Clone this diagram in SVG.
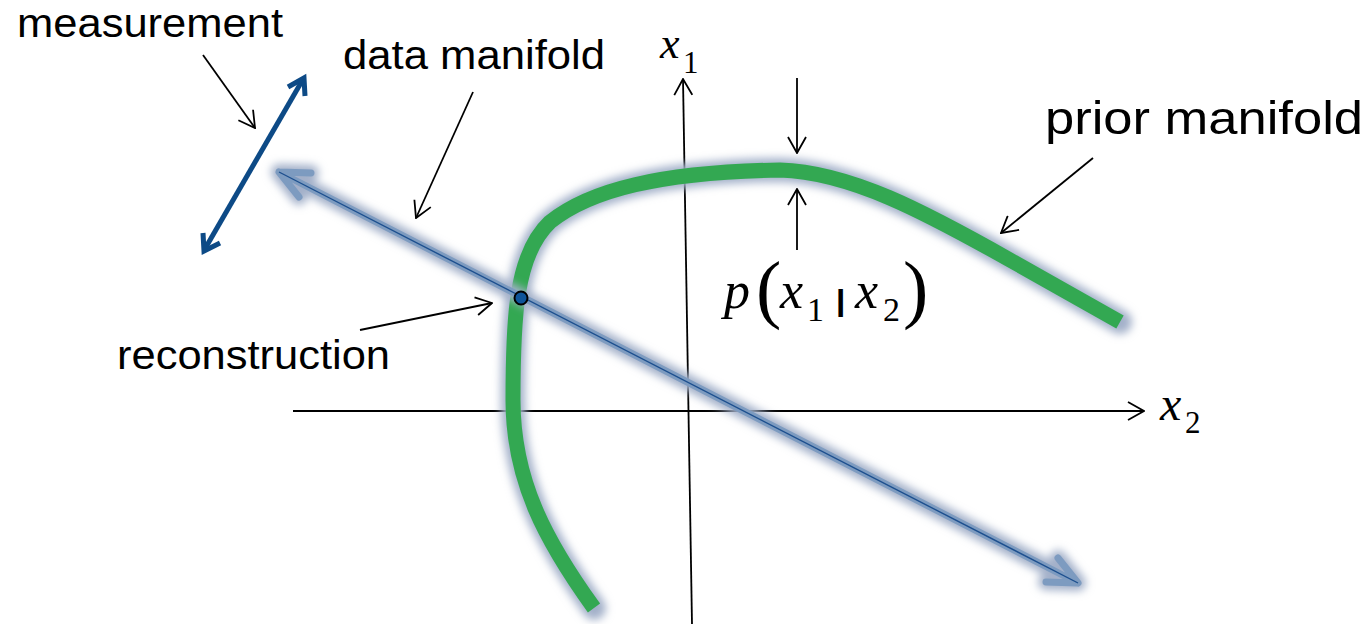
<svg xmlns="http://www.w3.org/2000/svg" width="1370" height="624" viewBox="0 0 1370 624">
<style>
.lbl{font-family:"Liberation Sans",Arial,sans-serif;font-size:41px;fill:#000}
.math{font-family:"Liberation Serif","Times New Roman",serif;fill:#000}
.it{font-style:italic}
.ptr{stroke:#000;stroke-width:1.8;fill:none}
.glow{fill:none;stroke:#a3b0c9;stroke-linecap:round;stroke-linejoin:round}
</style>
<defs>
<filter id="blur" x="-10%" y="-10%" width="120%" height="120%"><feGaussianBlur stdDeviation="4"/></filter>
<marker id="open" viewBox="0 0 18 20" refX="17" refY="10" markerWidth="18" markerHeight="20" markerUnits="userSpaceOnUse" orient="auto">
<path d="M1,1 L17,10 L1,19" fill="none" stroke="#000" stroke-width="1.8"/>
</marker>
</defs>
<rect width="1370" height="624" fill="#fff"/>

<g id="axes">
<line x1="293" y1="411" x2="1144" y2="411" class="ptr" marker-end="url(#open)"/>
<line x1="692" y1="624" x2="683" y2="79" class="ptr" marker-end="url(#open)"/>
</g>

<g id="prior-manifold">
<path d="M594,608 C545,540 513,480 513,400 C513,320 515,255 550,222 C590,190 660,172 780,170 C850,172 925,212 1010,260 L1120,322" class="glow" stroke-width="24" filter="url(#blur)"/>
<path d="M594,608 C545,540 513,480 513,400 C513,320 515,255 550,222 C590,190 660,172 780,170 C850,172 925,212 1010,260 L1120,322" fill="none" stroke="#33a852" stroke-width="15" stroke-linejoin="round"/>
</g>

<g id="data-manifold">
<g filter="url(#blur)">
<path d="M279,172 L1078,583 M311,173 L279,172 L299,197 M1058,558 L1078,583 L1046,582" class="glow" stroke-width="16"/>
</g>
<path d="M279,172 L1078,583 M311,173 L279,172 L299,197 M1058,558 L1078,583 L1046,582" fill="none" stroke="#7d9bc0" stroke-width="7" stroke-linecap="round" stroke-linejoin="round"/>
<line x1="279" y1="172" x2="1078" y2="583" stroke="#1d4f8e" stroke-width="1.4"/>
</g>

<g id="measurement-arrow">
<line x1="206" y1="247" x2="302" y2="81" stroke="#0d4a86" stroke-width="5"/>
<path d="M288,87 L304,78 L305,96" fill="none" stroke="#0d4a86" stroke-width="5" stroke-linejoin="miter"/>
<path d="M220,243 L204,251 L203,233" fill="none" stroke="#0d4a86" stroke-width="5" stroke-linejoin="miter"/>
</g>

<g id="reconstruction-point">
<circle cx="521" cy="298" r="6.5" fill="#0f5499" stroke="#000" stroke-width="2"/>
</g>

<g id="connectors">
<line x1="203" y1="55" x2="255" y2="128" class="ptr" marker-end="url(#open)"/>
<line x1="473" y1="92" x2="416" y2="218" class="ptr" marker-end="url(#open)"/>
<line x1="360" y1="330" x2="492" y2="303" class="ptr" marker-end="url(#open)"/>
<line x1="1093" y1="158" x2="1001" y2="233" class="ptr" marker-end="url(#open)"/>
<line x1="797" y1="78" x2="797" y2="153" class="ptr" marker-end="url(#open)"/>
<line x1="797" y1="250" x2="797" y2="189" class="ptr" marker-end="url(#open)"/>
</g>

<g id="label-measurement"><text class="lbl" x="17" y="37" textLength="266" lengthAdjust="spacingAndGlyphs">measurement</text></g>
<g id="label-data-manifold"><text class="lbl" x="343" y="69" textLength="262" lengthAdjust="spacingAndGlyphs">data manifold</text></g>
<g id="label-reconstruction"><text class="lbl" x="117" y="369" textLength="273" lengthAdjust="spacingAndGlyphs">reconstruction</text></g>
<g id="label-prior-manifold"><text class="lbl" x="1045" y="134" style="font-size:47px" textLength="318" lengthAdjust="spacingAndGlyphs">prior manifold</text></g>

<g id="label-x1">
<text class="math it" x="660" y="58" style="font-size:44px">x</text>
<text class="math" x="683" y="73" style="font-size:31px">1</text>
</g>
<g id="label-x2">
<text class="math it" x="1160" y="420" style="font-size:48px">x</text>
<text class="math" x="1185" y="433" style="font-size:31px">2</text>
</g>
<g id="label-pdf">
<text class="math it" x="724" y="308" style="font-size:52px">p</text>
<text class="math" x="756" y="314" style="font-size:76px">(</text>
<text class="math it" x="780" y="308" style="font-size:52px">x</text>
<text class="math" x="807" y="321" style="font-size:34px">1</text>
<text class="math" x="837" y="310" style="font-size:28px;font-family:'Liberation Sans',sans-serif" stroke="#000" stroke-width="2.2">|</text>
<text class="math it" x="855" y="308" style="font-size:52px">x</text>
<text class="math" x="883" y="321" style="font-size:34px">2</text>
<text class="math" x="903" y="314" style="font-size:76px">)</text>
</g>
</svg>
